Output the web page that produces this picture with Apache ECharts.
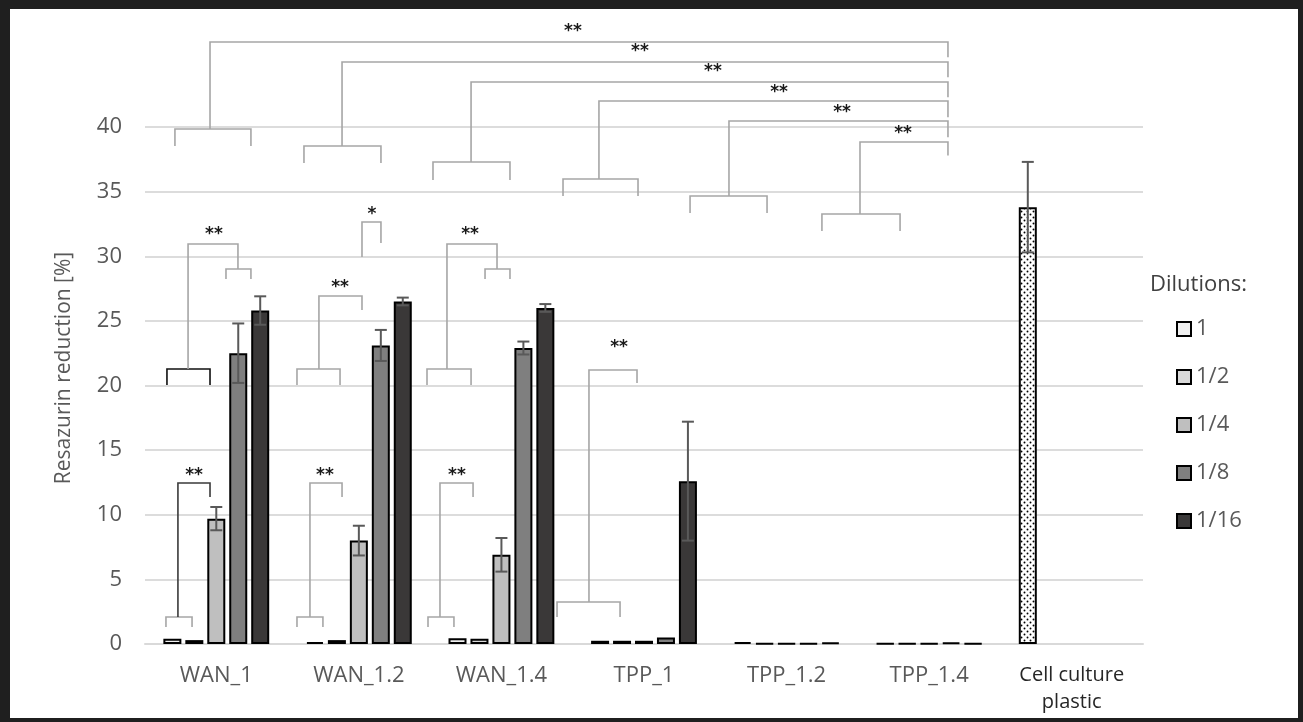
<!DOCTYPE html>
<html><head><meta charset="utf-8">
<script src="https://cdn.jsdelivr.net/npm/echarts@6/dist/echarts.min.js"></script>
<style>html,body{margin:0;padding:0;background:#fff}#c{width:1303px;height:722px}</style>
</head><body><div id="c"></div>
<script>
// ---- data ----
const categories = ['WAN_1', 'WAN_1.2', 'WAN_1.4', 'TPP_1', 'TPP_1.2', 'TPP_1.4', 'Cell culture\nplastic'];
const seriesNames = ['1', '1/2', '1/4', '1/8', '1/16'];
const yTicks = [0, 5, 10, 15, 20, 25, 30, 35, 40];
const val1  = [0.4, 0.15, 0.45, 0.25, 0.15, 0.05, 33.8];
const val2  = [0.3, 0.3, 0.4, 0.25, 0.05, 0.05, null];
const val4  = [9.7, 8.0, 6.9, 0.25, 0.05, 0.05, null];
const val8  = [22.5, 23.1, 22.9, 0.5, 0.05, 0.1, null];
const val16 = [25.8, 26.5, 26.0, 12.6, 0.1, 0.05, null];
const err1  = [0, 0, 0, 0, 0, 0, 3.5];
const err2  = [0, 0, 0, 0, 0, 0, 0];
const err4  = [0.9, 1.15, 1.3, 0, 0, 0, 0];
const err8  = [2.3, 1.2, 0.5, 0, 0, 0, 0];
const err16 = [1.1, 0.3, 0.3, 4.6, 0, 0, 0];
// significance brackets: polylines in data units (x = category index, y = %)
const bracketLines = [
  {pts: [[-0.044,39.85],[-0.044,46.58],[5.132,46.58],[5.132,45.4]]},
  {pts: [[0.882,38.53],[0.882,45.03],[5.132,45.03],[5.132,43.85]]},
  {pts: [[1.787,37.29],[1.787,43.48],[5.132,43.48],[5.132,42.3]]},
  {pts: [[2.684,35.98],[2.684,42.01],[5.132,42.01],[5.132,40.75]]},
  {pts: [[3.596,34.66],[3.596,40.46],[5.132,40.46],[5.132,39.2]]},
  {pts: [[4.515,33.27],[4.515,38.84],[5.132,38.84],[5.132,37.8]]},
  {pts: [[-0.290,38.53],[-0.290,39.85],[0.243,39.85],[0.243,38.53]]},
  {pts: [[0.615,37.21],[0.615,38.53],[1.155,38.53],[1.155,37.21]]},
  {pts: [[1.520,35.90],[1.520,37.29],[2.060,37.29],[2.060,35.90]]},
  {pts: [[2.432,34.66],[2.432,35.98],[2.958,35.98],[2.958,34.66]]},
  {pts: [[3.323,33.35],[3.323,34.66],[3.863,34.66],[3.863,33.35]]},
  {pts: [[4.248,31.95],[4.248,33.27],[4.796,33.27],[4.796,31.95]]},
  {pts: [[-0.346,20.04],[-0.346,21.28],[-0.044,21.28],[-0.044,20.04]], dark: 2},
  {pts: [[-0.198,21.28],[-0.198,30.95],[0.152,30.95],[0.152,29.01]]},
  {pts: [[0.068,28.24],[0.068,29.01],[0.243,29.01],[0.243,28.24]]},
  {pts: [[-0.353,1.32],[-0.353,2.09],[-0.170,2.09],[-0.170,1.32]]},
  {pts: [[-0.269,2.09],[-0.269,12.46],[-0.044,12.46],[-0.044,11.37]], dark: 1},
  {pts: [[0.566,20.04],[0.566,21.28],[0.868,21.28],[0.868,20.04]]},
  {pts: [[0.720,21.28],[0.720,26.92],[1.022,26.92],[1.022,25.84]]},
  {pts: [[1.022,29.94],[1.022,32.65],[1.155,32.65],[1.155,31.03]]},
  {pts: [[0.566,1.32],[0.566,2.09],[0.748,2.09],[0.748,1.32]]},
  {pts: [[0.657,2.09],[0.657,12.46],[0.882,12.46],[0.882,11.37]]},
  {pts: [[1.478,20.04],[1.478,21.28],[1.787,21.28],[1.787,20.04]]},
  {pts: [[1.618,21.28],[1.618,30.95],[1.969,30.95],[1.969,29.01]]},
  {pts: [[1.885,28.24],[1.885,29.01],[2.060,29.01],[2.060,28.24]]},
  {pts: [[1.485,1.32],[1.485,2.09],[1.667,2.09],[1.667,1.32]]},
  {pts: [[1.569,2.09],[1.569,12.46],[1.801,12.46],[1.801,11.37]]},
  {pts: [[2.390,2.09],[2.390,3.25],[2.832,3.25],[2.832,2.09]]},
  {pts: [[2.614,3.25],[2.614,21.2],[2.951,21.2],[2.951,20.19]]}
];
const starLabels = [
  [2.502,47.35,'**'],[2.972,45.80,'**'],[3.484,44.26,'**'],[3.947,42.63,'**'],[4.389,41.08,'**'],[4.817,39.46,'**'],
  [-0.016,31.64,'**'],[-0.156,13.0,'**'],
  [0.868,27.54,'**'],[1.092,33.19,'*'],[0.762,13.0,'**'],
  [1.780,31.64,'**'],[1.688,13.0,'**'],
  [2.825,22.9,'**']
];

// ---- styles ----
const FONT = 'Open Sans';
const seriesColors = ['#f0f0f0', '#d9d9d9', '#bfbfbf', '#7f7f7f', '#3a3838'];
const BAR_W = 18, BAR_GAP = 0.22;
const SLOT = BAR_W * (1 + BAR_GAP);

const dot = document.createElement('canvas');
dot.width = 6; dot.height = 6;
const g = dot.getContext('2d');
g.fillStyle = '#fff'; g.fillRect(0, 0, 6, 6);
g.fillStyle = '#000';
g.beginPath(); g.arc(1.5, 1.5, 0.95, 0, Math.PI * 2); g.fill();
g.beginPath(); g.arc(4.5, 4.5, 0.95, 0, Math.PI * 2); g.fill();

const values = [val1, val2, val4, val8, val16];
const errors = [err1, err2, err4, err8, err16];

const barSeries = seriesNames.map((name, k) => ({
  name, type: 'bar', barWidth: BAR_W, barGap: (BAR_GAP * 100) + '%',
  itemStyle: {color: seriesColors[k], borderColor: '#000', borderWidth: 2},
  data: values[k].map((v, i) => (k === 0 && i === 6)
    ? {value: v, itemStyle: {color: {image: dot, repeat: 'repeat'}, borderColor: '#000', borderWidth: 2}}
    : v),
  z: 2
}));

const errData = [];
values.forEach((arr, k) => arr.forEach((v, i) => {
  if (v != null && errors[k][i] > 0) errData.push([i, v, errors[k][i], k]);
}));

const chart = echarts.init(document.getElementById('c'), null, {renderer: 'canvas'});
chart.setOption({
  animation: false,
  backgroundColor: '#fff',
  grid: {left: 145, right: 160, top: 127, bottom: 78},
  xAxis: [
    {type: 'category', data: categories,
     axisLine: {show: true, lineStyle: {color: '#d9d9d9', width: 2}},
     axisTick: {show: false},
     axisLabel: {interval: 0, margin: 18, fontFamily: FONT, fontSize: 22, color: '#595959', lineHeight: 28,
       formatter: v => v.indexOf('\n') >= 0 ? v.split('\n').map(s => '{c|' + s + '}').join('\n') : v,
       rich: {c: {fontFamily: FONT, fontSize: 20, color: '#262626', lineHeight: 27}}}},
    {type: 'value', min: -0.5, max: 6.5, show: false}
  ],
  yAxis: {type: 'value', min: yTicks[0], max: yTicks[yTicks.length - 1], interval: 5,
    axisLine: {show: false}, axisTick: {show: false},
    axisLabel: {margin: 23, fontFamily: FONT, fontSize: 22, color: '#595959'},
    splitLine: {lineStyle: {color: '#dcdcdc', width: 2}}},
  legend: {orient: 'vertical', left: 1171, top: 313, itemWidth: 14, itemHeight: 14, itemGap: 26,
    icon: 'rect', data: seriesNames,
    textStyle: {fontFamily: FONT, fontSize: 22, color: '#595959', lineHeight: 22}},
  graphic: [
    {type: 'text', left: 1150, top: 274, style: {text: 'Dilutions:', font: '22px "Open Sans"', fill: '#404040'}},
    {type: 'text', x: 64, y: 368, rotation: Math.PI / 2,
     style: {text: 'Resazurin reduction [%]', font: '21px "Open Sans"', fill: '#595959', align: 'center', verticalAlign: 'middle'}},
    {type: 'rect', shape: {x: 0, y: 0, width: 1303, height: 9}, style: {fill: '#1f1f1f'}, z: 100},
    {type: 'rect', shape: {x: 0, y: 0, width: 10, height: 722}, style: {fill: '#1f1f1f'}, z: 100},
    {type: 'rect', shape: {x: 1298, y: 0, width: 5, height: 722}, style: {fill: '#1f1f1f'}, z: 100},
    {type: 'rect', shape: {x: 0, y: 718, width: 1303, height: 4}, style: {fill: '#1f1f1f'}, z: 100}
  ],
  series: [
    ...barSeries,
    {type: 'custom', name: 'err', xAxisIndex: 0, yAxisIndex: 0, clip: false, z: 5,
     data: errData, encode: {x: 0, y: 1},
     renderItem: (params, api) => {
       const i = api.value(0), v = api.value(1), e = api.value(2), k = api.value(3);
       const off = (k - 2) * SLOT;
       const top = api.coord([i, v + e]);
       const bot = api.coord([i, v - e]);
       const x = top[0] + off;
       const st = {stroke: '#595959', lineWidth: 2};
       return {type: 'group', children: [
         {type: 'line', shape: {x1: x, y1: top[1], x2: x, y2: bot[1]}, style: st},
         {type: 'line', shape: {x1: x - 6, y1: top[1], x2: x + 6, y2: top[1]}, style: st},
         {type: 'line', shape: {x1: x - 6, y1: bot[1], x2: x + 6, y2: bot[1]}, style: st}
       ]};
     }},
    {type: 'custom', name: 'brackets', xAxisIndex: 1, yAxisIndex: 0, clip: false, z: 1,
     data: bracketLines.map(b => b.pts[0]), encode: {x: 0, y: 1},
     renderItem: (params, api) => {
       const b = bracketLines[params.dataIndex];
       const pts = b.pts.map(p => api.coord(p));
       const col = b.dark === 2 ? '#111' : b.dark === 1 ? '#3a3a3a' : '#a6a6a6';
       return {type: 'polyline', shape: {points: pts}, style: {stroke: col, lineWidth: 1.6, fill: null}};
     }},
    {type: 'custom', name: 'stars', xAxisIndex: 1, yAxisIndex: 0, clip: false, z: 6,
     data: starLabels, encode: {x: 0, y: 1},
     renderItem: (params, api) => {
       const s = starLabels[params.dataIndex];
       const p = api.coord([s[0], s[1]]);
       return {type: 'text', x: p[0], y: p[1],
         style: {text: s[2], font: 'bold 17px "DejaVu Sans"', fill: '#1a1a1a', align: 'center', verticalAlign: 'middle'}};
     }}
  ]
});
</script></body></html>
